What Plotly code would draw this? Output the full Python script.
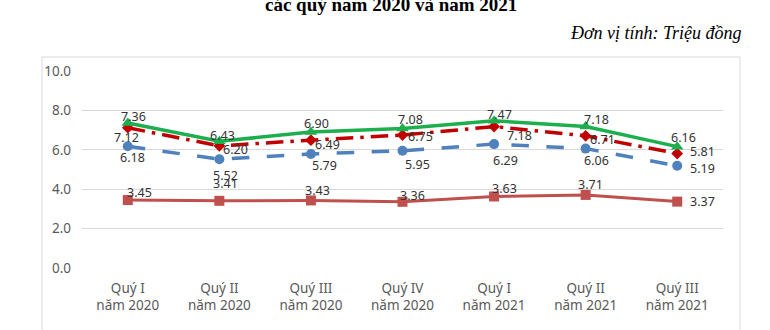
import plotly.graph_objects as go

categories = ["Quý I<br>năm 2020", "Quý II<br>năm 2020", "Quý III<br>năm 2020", "Quý IV<br>năm 2020",
              "Quý I<br>năm 2021", "Quý II<br>năm 2021", "Quý III<br>năm 2021"]
series_green = [7.36, 6.43, 6.90, 7.08, 7.47, 7.18, 6.16]
series_darkred = [7.12, 6.20, 6.49, 6.75, 7.18, 6.71, 5.81]
series_blue = [6.18, 5.52, 5.79, 5.95, 6.29, 6.06, 5.19]
series_red = [3.45, 3.41, 3.43, 3.36, 3.63, 3.71, 3.37]
y_ticks = [0, 2, 4, 6, 8, 10]

W, H = 770, 330
L, R, T, B = 82, 47, 71, 62
pw, ph = W - L - R, H - T - B

lab_font = dict(family="Noto Sans", size=12.5, color="#333333")

fig = go.Figure()

def add(vals, color, dash, symbol, msize, width, offsets, name):
    fig.add_trace(go.Scatter(
        x=categories, y=vals, mode="lines+markers", name=name,
        line=dict(color=color, width=width, dash=dash),
        marker=dict(symbol=symbol, size=msize, color=color),
        cliponaxis=False, showlegend=False))
    for c, v, (dx, dy) in zip(categories, vals, offsets):
        fig.add_annotation(x=c, y=v, xref="x", yref="y", text=f"{v:.2f}",
                           showarrow=False, xanchor="center", yanchor="middle",
                           xshift=dx, yshift=-dy, font=lab_font, borderpad=0)

add(series_red, "#C0504D", "solid", "square", 10, 3,
    [(12, -8), (6, -17), (7, -10), (10, -6), (10, -8), (5, -10), (25, 0)], "Series 4")
add(series_blue, "#4F81BD", "longdash", "circle", 10, 3.5,
    [(5, 11), (6, 16), (14, 12), (15, 14), (11, 16), (11, 12), (25, 3)], "Series 3")
add(series_darkred, "#C00000", "longdashdot", "diamond", 9, 3.5,
    [(-1, 10), (16, 4), (17, 4), (18, 1), (25, 9), (17, 4), (25, -2)], "Series 2")
add(series_green, "#1DAF4E", "solid", "triangle-up", 11, 3.5,
    [(6, -7), (3, -6), (6, -9), (8, -9), (5, -6), (11, -7), (6, -9)], "Series 1")

# outer chart border
fig.add_shape(type="rect", xref="paper", yref="paper",
              x0=(42 - L) / pw, x1=(740 - L) / pw,
              y0=-0.5, y1=(H - B - 57) / ph,
              line=dict(color="#D9D9D9", width=1), layer="below")

fig.add_annotation(text="<b>các quý năm 2020 và năm 2021</b>", xref="paper", yref="paper",
                   x=(391 - L) / pw, y=(H - B - 4) / ph, xanchor="center", yanchor="middle",
                   showarrow=False, font=dict(family="Liberation Serif", size=19, color="#000000"))
fig.add_annotation(text="<i>Đơn vị tính: Triệu đồng</i>", xref="paper", yref="paper",
                   x=(744 - L) / pw, y=(H - B - 33) / ph, xanchor="right", yanchor="middle",
                   showarrow=False, font=dict(family="Liberation Serif", size=18, color="#000000"))

fig.update_layout(
    width=W, height=H, margin=dict(l=L, r=R, t=T, b=B),
    paper_bgcolor="white", plot_bgcolor="white",
    xaxis=dict(range=[-0.5, len(categories) - 0.5], showgrid=False, showline=False,
               zeroline=False, ticks="", ticklabelstandoff=10,
               tickfont=dict(family="Noto Sans", size=13.5, color="#595959")),
    yaxis=dict(range=[0, 10], tickvals=y_ticks, tickformat=".1f",
               showgrid=True, gridcolor="#D9D9D9", gridwidth=1, zeroline=False,
               showline=False, ticks="", ticklen=0, ticklabelstandoff=10,
               tickfont=dict(family="Noto Sans", size=13.5, color="#595959")),
)

fig.write_html("out.html")
